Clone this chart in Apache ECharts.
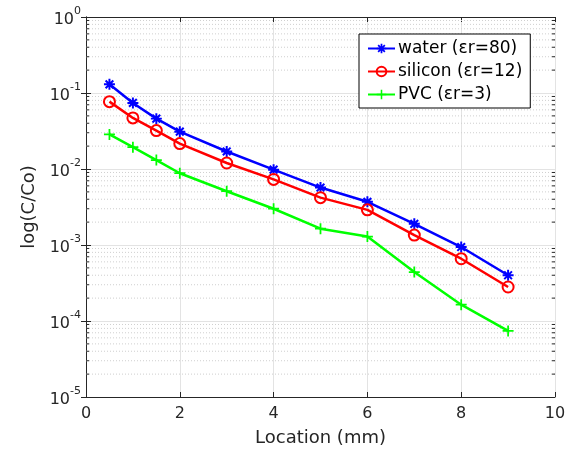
<!DOCTYPE html>
<html><head><meta charset="utf-8">
<script src="https://cdn.jsdelivr.net/npm/echarts@6/dist/echarts.min.js"></script>
<style>html,body{margin:0;padding:0;background:#fff}#c{width:577px;height:462px}</style>
</head><body><div id="c"></div>
<script>
const locations = [0.5, 1, 1.5, 2, 3, 4, 5, 6, 7, 8, 9];
const water   = [0.13, 0.074, 0.046, 0.031, 0.017, 0.0098, 0.0057, 0.0037, 0.0019, 0.00094, 0.0004];
const silicon = [0.077, 0.047, 0.032, 0.0216, 0.012, 0.0073, 0.0042, 0.0029, 0.00135, 0.00066, 0.00028];
const pvc     = [0.0285, 0.0194, 0.0131, 0.0088, 0.0051, 0.0030, 0.00164, 0.00129, 0.00044, 0.000164, 0.000074];
const seriesNames = ['water (εr=80)', 'silicon (εr=12)', 'PVC (εr=3)'];
const xTicks = [0, 2, 4, 6, 8, 10];
const yExponents = [-5, -4, -3, -2, -1, 0];

const FONT = 'DejaVu Sans';
const AX = '#262626';
const asterisk = 'path://M-1.8,-10L1.8,-10L1.8,10L-1.8,10Z M-10,-1.8L10,-1.8L10,1.8L-10,1.8Z M-8.3,-5.7L-5.7,-8.3L8.3,5.7L5.7,8.3Z M5.7,-8.3L8.3,-5.7L-5.7,8.3L-8.3,5.7Z';
const plus = 'path://M-1.6,-10L1.6,-10L1.6,10L-1.6,10Z M-10,-1.6L10,-1.6L10,1.6L-10,1.6Z';

const pairs = arr => locations.map((x, i) => [x, arr[i]]);
const xMin = xTicks[0], xMax = xTicks[xTicks.length - 1];

// minor grid values 2..9 x 10^k
const minorVals = [];
for (let k = yExponents[0]; k < yExponents[yExponents.length - 1]; k++) {
  for (let m = 2; m <= 9; m++) minorVals.push(m * Math.pow(10, k));
}
const helperSeries = [];
minorVals.forEach(v => {
  helperSeries.push({
    type: 'line', silent: true, symbol: 'none', z: 1,
    data: [[xMin, v], [xMax, v]],
    lineStyle: { color: '#cfcfcf', width: 1, type: [1, 2] }
  });
  helperSeries.push({
    type: 'line', silent: true, symbol: 'none', z: 3,
    data: [[xMin, v], [xMin + 0.065, v]],
    lineStyle: { color: AX, width: 1 }
  });
  helperSeries.push({
    type: 'line', silent: true, symbol: 'none', z: 3,
    data: [[xMax - 0.065, v], [xMax, v]],
    lineStyle: { color: AX, width: 1 }
  });
});

const yLabelFmt = v => {
  const e = Math.round(Math.log10(v));
  return '{b|10}{s|' + e + '}';
};

const chart = echarts.init(document.getElementById('c'), null, { renderer: 'canvas' });
chart.setOption({
  animation: false,
  textStyle: { fontFamily: FONT },
  grid: { left: 86, right: 22, top: 17, bottom: 65, containLabel: false },
  legend: {
    data: seriesNames,
    orient: 'vertical',
    left: 359, top: 34,
    padding: [6, 8, 5, 8],
    itemGap: 6,
    itemWidth: 27, itemHeight: 12,
    borderColor: '#000', borderWidth: 1, borderRadius: 0,
    backgroundColor: '#fff',
    textStyle: { fontSize: 17, color: '#000', fontFamily: FONT, padding: [0, 0, 0, -2] }
  },
  xAxis: [{
    type: 'value', min: xMin, max: xMax, interval: 2,
    name: 'Location (mm)', nameLocation: 'middle', nameGap: 32,
    nameTextStyle: { fontSize: 18, color: AX, fontFamily: FONT },
    axisLine: { show: true, lineStyle: { color: AX, width: 1 } },
    axisTick: { show: true, inside: true, length: 5, lineStyle: { color: AX } },
    axisLabel: { fontSize: 16, color: AX, margin: 9, fontFamily: FONT },
    splitLine: { show: true, lineStyle: { color: '#e3e3e3', width: 1 } }
  }, {
    type: 'value', min: xMin, max: xMax, interval: 2, position: 'top',
    axisLine: { show: true, lineStyle: { color: AX, width: 1 } },
    axisTick: { show: true, inside: true, length: 5, lineStyle: { color: AX } },
    axisLabel: { show: false }, splitLine: { show: false }
  }],
  yAxis: [{
    type: 'log', logBase: 10, min: 1e-5, max: 1, interval: 1,
    name: 'log(C/Co)', nameLocation: 'middle', nameGap: 48,
    nameTextStyle: { fontSize: 18, color: AX, fontFamily: FONT },
    axisLine: { show: true, lineStyle: { color: AX, width: 1 } },
    axisTick: { show: true, inside: true, length: 5, lineStyle: { color: AX } },
    axisLabel: {
      formatter: yLabelFmt, margin: 5,
      rich: {
        b: { fontSize: 16, color: AX, fontFamily: FONT, verticalAlign: 'bottom', padding: [6, 0, 0, 0] },
        s: { fontSize: 11, color: AX, fontFamily: FONT, verticalAlign: 'top', padding: [0, 0, 8, 0] }
      }
    },
    splitLine: { show: true, lineStyle: { color: '#e3e3e3', width: 1 } }
  }, {
    type: 'log', logBase: 10, min: 1e-5, max: 1, interval: 1, position: 'right',
    axisLine: { show: true, lineStyle: { color: AX, width: 1 } },
    axisTick: { show: true, inside: true, length: 5, lineStyle: { color: AX } },
    axisLabel: { show: false }, splitLine: { show: false }
  }],
  series: helperSeries.concat([
    {
      name: seriesNames[0], type: 'line', data: pairs(water), z: 5,
      symbol: asterisk, symbolSize: 11,
      lineStyle: { color: '#0000ff', width: 2.5 },
      itemStyle: { color: '#0000ff' }, color: '#0000ff'
    },
    {
      name: seriesNames[1], type: 'line', data: pairs(silicon), z: 5,
      symbol: 'circle', symbolSize: 11,
      lineStyle: { color: '#ff0000', width: 2.5 },
      itemStyle: { color: 'rgba(255,255,255,0)', borderColor: '#ff0000', borderWidth: 2 }, color: '#ff0000'
    },
    {
      name: seriesNames[2], type: 'line', data: pairs(pvc), z: 5,
      symbol: plus, symbolSize: 11,
      lineStyle: { color: '#00ff00', width: 2.5 },
      itemStyle: { color: '#00ff00' }, color: '#00ff00'
    }
  ])
});
</script></body></html>
